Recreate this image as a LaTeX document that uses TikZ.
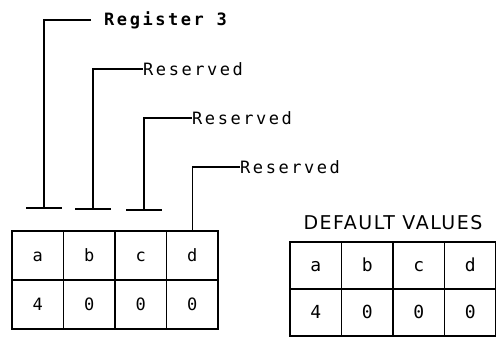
\documentclass[tikz,border=0pt]{standalone}
\usepackage{fontspec}
\newfontfamily\plotfont[LetterSpace=15]{DejaVu Sans Mono}
\newfontfamily\headfont[LetterSpace=8]{DejaVu Sans}
\usetikzlibrary{positioning}

\begin{document}
\begin{tikzpicture}[x=1pt, y=-1pt,
    lbl/.style={font=\plotfont\fontsize{17}{17}\selectfont, inner sep=0pt, anchor=west},
    cell/.style={draw, line width=1.3pt, outer sep=0pt, inner sep=0pt, anchor=north west,
                 minimum width=51.5pt, minimum height=#1, text height=11pt, text depth=0pt,
                 font=\plotfont\fontsize{17}{17}\selectfont},
    lead/.style={line width=1.2pt},
    node distance=0pt
]
\useasboundingbox (0,0) rectangle (496,341);

% register table
\foreach \c/\v [count=\i] in {a/4,b/0,c/0,d/0} {
  \node[cell=49pt] (l\c1) at ({12+(\i-1)*51.5},231) {\c};
  \node[cell=49pt, below=of l\c1] (l\c2) {\v};
}

% default values
\foreach \c/\v [count=\i] in {a/4,b/0,c/0,d/0} {
  \node[cell=47pt, font=\plotfont\fontsize{18}{18}\selectfont] (r\c1) at ({290+(\i-1)*51.5},242) {\c};
  \node[cell=47pt, font=\plotfont\fontsize{18}{18}\selectfont, below=of r\c1] (r\c2) {\v};
}
\node[font=\headfont\fontsize{19}{19}\selectfont, inner sep=0pt] (dv) at (393,223) {DEFAULT VALUES};

% bit labels
\node[lbl, font=\plotfont\bfseries\fontsize{17}{17}\selectfont] (reg) at (104,20) {Register 3};
\node[lbl] (rs1) at (143,69) {Reserved};
\node[lbl] (rs2) at (192,118) {Reserved};
\node[lbl] (rs3) at (240,167) {Reserved};

\coordinate (ta) at (44,208);
\coordinate (tb) at (93,209);
\coordinate (tc) at (144,210);

\draw[lead] ([xshift=-13pt]reg.west) -| (ta);
\draw[lead] (rs1.west) -| (tb);
\draw[lead] (rs2.west) -| (tc);
\draw[lead] (rs3.west) -| (ld1.north);
\foreach \t in {ta,tb,tc}
  \draw[lead] ([xshift=-18pt]\t) -- ([xshift=18pt]\t);
\end{tikzpicture}
\end{document}
